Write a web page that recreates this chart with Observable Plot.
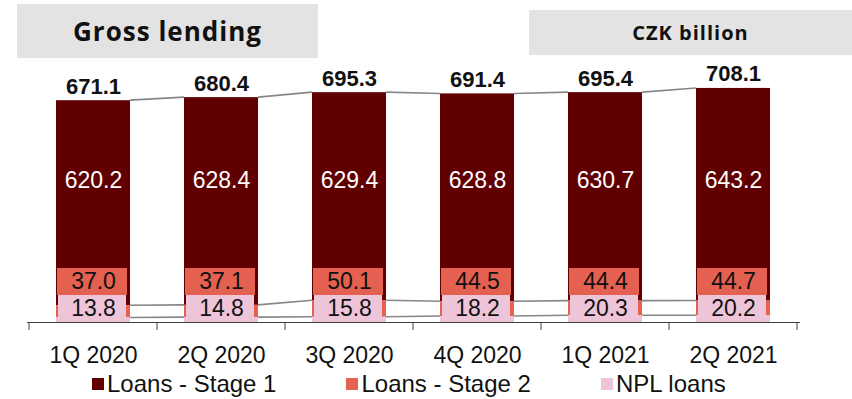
<!DOCTYPE html>
<html><head><meta charset="utf-8">
<script src="https://cdn.jsdelivr.net/npm/d3@7"></script>
<script src="https://cdn.jsdelivr.net/npm/@observablehq/plot@0.6"></script>
<style>
body{margin:0;background:#fff;font-family:"Liberation Sans",Arial,sans-serif;}
#wrap{position:relative;width:852px;height:399px;overflow:hidden}
#head{position:relative;height:62px}
.tbox{position:absolute;background:#e3e3e3;font-family:"Open Sans",sans-serif;font-weight:700;color:#111;display:flex;align-items:center;justify-content:center;letter-spacing:1px}
#t1{left:17px;top:4px;width:301px;height:54px;font-size:26px}
#t2{left:529px;top:10px;width:323px;height:45px;font-size:20px}
#chart svg{display:block}
#legend{margin-left:92px;height:30px}
#legend .lg-swatches{margin:0;font-family:"Liberation Sans",Arial,sans-serif;font-size:24px;color:#111;min-height:30px}
#legend .lg-swatch{margin-right:70px}
#legend .lg-swatch > svg{margin-right:3px}
</style></head>
<body>
<div id="wrap">
  <div id="head"><div class="tbox" id="t1">Gross lending</div><div class="tbox" id="t2">CZK billion</div></div>
  <div id="chart"></div>
  <div id="legend"></div>
</div>
<script>
const quarters = ["1Q 2020", "2Q 2020", "3Q 2020", "4Q 2020", "1Q 2021", "2Q 2021"];
const stage1 = [620.2, 628.4, 629.4, 628.8, 630.7, 643.2];
const stage2 = [37.0, 37.1, 50.1, 44.5, 44.4, 44.7];
const npl = [13.8, 14.8, 15.8, 18.2, 20.3, 20.2];
const totals = [671.1, 680.4, 695.3, 691.4, 695.4, 708.1];
const seriesNames = ["Loans - Stage 1", "Loans - Stage 2", "NPL loans"];
const colors = ["#600000", "#e46050", "#eec4d8"];

const rows = quarters.map((q, i) => ({q, s1: stage1[i], s2: stage2[i], npl: npl[i], total: totals[i]}));
const long = rows.flatMap(r => [
  {q: r.q, series: seriesNames[0], v: r.s1},
  {q: r.q, series: seriesNames[1], v: r.s2},
  {q: r.q, series: seriesNames[2], v: r.npl}
]);

function connectors(index, scales) {
  const x = scales.x, y = scales.y;
  const bw = x.bandwidth(), step = x.step();
  const g = d3.create("svg:g");
  const lg = g.append("g").attr("stroke", "#878787").attr("stroke-width", 1.6).attr("fill", "none");
  const levels = [totals, rows.map(r => r.npl + r.s2), npl];
  for (const arr of levels) {
    for (let i = 0; i < quarters.length - 1; i++) {
      lg.append("line")
        .attr("x1", x(quarters[i]) + bw).attr("y1", y(arr[i]))
        .attr("x2", x(quarters[i + 1])).attr("y2", y(arr[i + 1]));
    }
  }
  const y0 = y(0);
  const edges = quarters.map(q => x(q) - (step - bw) / 2);
  edges.push(x(quarters[quarters.length - 1]) + bw + (step - bw) / 2);
  const tg = g.append("g").attr("stroke", "#404040").attr("stroke-width", 1);
  for (const e of edges) tg.append("line").attr("x1", e).attr("x2", e).attr("y1", y0).attr("y2", y0 + 8);
  return g.node();
}

const chart = Plot.plot({
  width: 852,
  height: 307,
  marginLeft: 27,
  marginRight: 52,
  marginTop: 22,
  marginBottom: 47,
  style: {fontFamily: "Liberation Sans, Arial, sans-serif", fontSize: "23px", color: "#111", background: "#fff"},
  x: {domain: quarters, paddingInner: 0.42, paddingOuter: 0.21, axis: null},
  y: {domain: [0, 720], axis: null},
  color: {domain: seriesNames, range: colors},
  marks: [
    Plot.barY(long, {x: "q", y: "v", fill: "series", order: [seriesNames[2], seriesNames[1], seriesNames[0]]}),
    connectors,
    Plot.barY(rows, {x: "q", y1: 0, y2: 0, fill: colors[1], insetTop: -54, insetBottom: 27, insetLeft: 1, insetRight: 3}),
    Plot.barY(rows, {x: "q", y1: 0, y2: 0, fill: colors[2], insetTop: -27, insetBottom: 0, insetLeft: 2, insetRight: 4}),
    Plot.text(rows, {x: "q", y: 0, text: d => d.s1.toFixed(1), dy: -142, fill: "#fff", fontSize: 23}),
    Plot.text(rows, {x: "q", y: 0, text: d => d.s2.toFixed(1), dy: -41, fill: "#111", fontSize: 23}),
    Plot.text(rows, {x: "q", y: 0, text: d => d.npl.toFixed(1), dy: -14, fill: "#111", fontSize: 23}),
    Plot.text(rows, {x: "q", y: "total", text: d => d.total.toFixed(1), lineAnchor: "bottom", dy: -7, fill: "#111", fontSize: 22, fontWeight: "bold"}),
    Plot.ruleY([0], {stroke: "#404040", strokeWidth: 1}),
    Plot.axisX({tickSize: 0, tickPadding: 24, fontSize: 23, label: null})
  ]
});
document.getElementById("chart").append(chart);

const leg = Plot.legend({color: {domain: seriesNames, range: colors}, legend: "swatches", swatchSize: 12, className: "lg"});
document.getElementById("legend").append(leg);
</script>
</body></html>
